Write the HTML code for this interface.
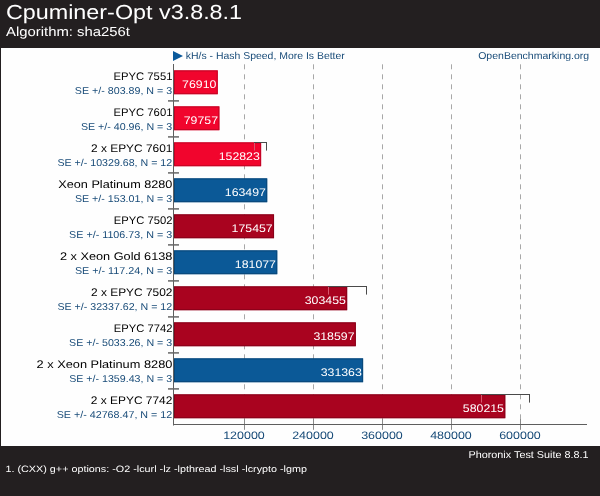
<!DOCTYPE html><html><head><meta charset="utf-8"><style>html,body{margin:0;padding:0;background:#fefefe;}svg{display:block}text{text-rendering:geometricPrecision;font-family:"Liberation Sans",sans-serif;}</style></head><body>
<svg style="will-change:transform" width="600" height="496" viewBox="0 0 600 496">
<rect x="0" y="0" width="600" height="496" fill="#fefefe"/>
<rect x="0" y="0" width="600" height="48" fill="#231f20"/>
<text x="5.9" y="19.4" font-size="20.3" fill="#ffffff" textLength="236.2" lengthAdjust="spacingAndGlyphs">Cpuminer-Opt v3.8.8.1</text>
<text x="6" y="36" font-size="13" fill="#ffffff" textLength="124" lengthAdjust="spacingAndGlyphs">Algorithm: sha256t</text>
<rect x="0" y="48" width="1" height="398" fill="#231f20"/>
<rect x="0" y="446" width="600" height="50" fill="#231f20"/>
<text x="468.5" y="458" font-size="10" fill="#ffffff" textLength="120" lengthAdjust="spacingAndGlyphs">Phoronix Test Suite 8.8.1</text>
<text x="5.5" y="471.5" font-size="9.2" fill="#ffffff" textLength="301.5" lengthAdjust="spacingAndGlyphs">1. (CXX) g++ options: -O2 -lcurl -lz -lpthread -lssl -lcrypto -lgmp</text>
<path d="M173 51 L183 56 L173 61 Z" fill="#0b5a9c"/>
<text x="185.8" y="59" font-size="10" fill="#184b78" textLength="159" lengthAdjust="spacingAndGlyphs">kH/s - Hash Speed, More Is Better</text>
<text x="478.2" y="59" font-size="10" fill="#184b78" textLength="111" lengthAdjust="spacingAndGlyphs">OpenBenchmarking.org</text>
<line x1="244.5" y1="64.3" x2="244.5" y2="424" stroke="#a8a8a8" stroke-width="1" stroke-dasharray="5,5"/>
<line x1="244.5" y1="419" x2="244.5" y2="429.8" stroke="#8a8a8a" stroke-width="1"/>
<line x1="313.5" y1="64.3" x2="313.5" y2="424" stroke="#a8a8a8" stroke-width="1" stroke-dasharray="5,5"/>
<line x1="313.5" y1="419" x2="313.5" y2="429.8" stroke="#8a8a8a" stroke-width="1"/>
<line x1="382.5" y1="64.3" x2="382.5" y2="424" stroke="#a8a8a8" stroke-width="1" stroke-dasharray="5,5"/>
<line x1="382.5" y1="419" x2="382.5" y2="429.8" stroke="#8a8a8a" stroke-width="1"/>
<line x1="451.5" y1="64.3" x2="451.5" y2="424" stroke="#a8a8a8" stroke-width="1" stroke-dasharray="5,5"/>
<line x1="451.5" y1="419" x2="451.5" y2="429.8" stroke="#8a8a8a" stroke-width="1"/>
<line x1="520.5" y1="64.3" x2="520.5" y2="424" stroke="#a8a8a8" stroke-width="1" stroke-dasharray="5,5"/>
<line x1="520.5" y1="419" x2="520.5" y2="429.8" stroke="#8a8a8a" stroke-width="1"/>
<line x1="173.5" y1="64" x2="173.5" y2="425.5" stroke="#5e5e5e" stroke-width="1"/>
<line x1="173" y1="424.5" x2="587" y2="424.5" stroke="#5e5e5e" stroke-width="1"/>
<text x="223.2" y="438.8" font-size="10.9" fill="#184b78" textLength="41.6" lengthAdjust="spacingAndGlyphs">120000</text>
<text x="292.2" y="438.8" font-size="10.9" fill="#184b78" textLength="41.6" lengthAdjust="spacingAndGlyphs">240000</text>
<text x="361.2" y="438.8" font-size="10.9" fill="#184b78" textLength="41.6" lengthAdjust="spacingAndGlyphs">360000</text>
<text x="430.2" y="438.8" font-size="10.9" fill="#184b78" textLength="41.6" lengthAdjust="spacingAndGlyphs">480000</text>
<text x="499.2" y="438.8" font-size="10.9" fill="#184b78" textLength="41.6" lengthAdjust="spacingAndGlyphs">600000</text>
<rect x="174" y="70.40" width="43.74" height="23.8" fill="#f1052d"/>
<rect x="174.5" y="70.90" width="42.74" height="22.8" fill="none" stroke="#c10424" stroke-width="1" opacity="1"/>
<text x="182.14" y="88.00" font-size="11" fill="#ffffff" textLength="34.3" lengthAdjust="spacingAndGlyphs">76910</text>
<text x="113.60" y="80.25" font-size="11" fill="#000000" textLength="58.8" lengthAdjust="spacingAndGlyphs">EPYC 7551</text>
<text x="74.80" y="93.70" font-size="10" fill="#184b78" textLength="97.4" lengthAdjust="spacingAndGlyphs">SE +/- 803.89, N = 3</text>
<line x1="168" y1="100.90" x2="179" y2="100.90" stroke="#666" stroke-width="1.5"/>
<rect x="174" y="106.40" width="45.37" height="23.8" fill="#f1052d"/>
<rect x="174.5" y="106.90" width="44.37" height="22.8" fill="none" stroke="#c10424" stroke-width="1" opacity="1"/>
<text x="183.77" y="124.00" font-size="11" fill="#ffffff" textLength="34.3" lengthAdjust="spacingAndGlyphs">79757</text>
<text x="113.60" y="116.25" font-size="11" fill="#000000" textLength="58.8" lengthAdjust="spacingAndGlyphs">EPYC 7601</text>
<text x="80.90" y="129.70" font-size="10" fill="#184b78" textLength="91.3" lengthAdjust="spacingAndGlyphs">SE +/- 40.96, N = 3</text>
<line x1="168" y1="136.90" x2="179" y2="136.90" stroke="#666" stroke-width="1.5"/>
<rect x="174" y="142.40" width="87.11" height="23.8" fill="#f1052d"/>
<rect x="174.5" y="142.90" width="86.11" height="22.8" fill="none" stroke="#c10424" stroke-width="1" opacity="1"/>
<text x="218.71" y="160.00" font-size="11" fill="#ffffff" textLength="41.1" lengthAdjust="spacingAndGlyphs">152823</text>
<text x="91.00" y="152.25" font-size="11" fill="#000000" textLength="81.4" lengthAdjust="spacingAndGlyphs">2 x EPYC 7601</text>
<text x="57.40" y="165.70" font-size="10" fill="#184b78" textLength="114.8" lengthAdjust="spacingAndGlyphs">SE +/- 10329.68, N = 12</text>
<line x1="168" y1="172.90" x2="179" y2="172.90" stroke="#666" stroke-width="1.5"/>
<line x1="254.5" y1="143.00" x2="254.5" y2="150.60" stroke="#d8586e" stroke-width="1"/>
<line x1="254.0" y1="142.50" x2="267.0" y2="142.50" stroke="#4a4a4a" stroke-width="1"/>
<line x1="266.5" y1="142.40" x2="266.5" y2="150.60" stroke="#4a4a4a" stroke-width="1"/>
<rect x="174" y="178.40" width="93.21" height="23.8" fill="#0b5997"/>
<rect x="174.5" y="178.90" width="92.21" height="22.8" fill="none" stroke="#094779" stroke-width="1" opacity="1"/>
<text x="224.81" y="196.00" font-size="11" fill="#ffffff" textLength="41.1" lengthAdjust="spacingAndGlyphs">163497</text>
<text x="58.30" y="188.25" font-size="11" fill="#000000" textLength="114.1" lengthAdjust="spacingAndGlyphs">Xeon Platinum 8280</text>
<text x="74.90" y="201.70" font-size="10" fill="#184b78" textLength="97.3" lengthAdjust="spacingAndGlyphs">SE +/- 153.01, N = 3</text>
<line x1="168" y1="208.90" x2="179" y2="208.90" stroke="#666" stroke-width="1.5"/>
<rect x="174" y="214.40" width="100.04" height="23.8" fill="#a9031f"/>
<rect x="174.5" y="214.90" width="99.04" height="22.8" fill="none" stroke="#870219" stroke-width="1" opacity="1"/>
<text x="231.64" y="232.00" font-size="11" fill="#ffffff" textLength="41.1" lengthAdjust="spacingAndGlyphs">175457</text>
<text x="113.80" y="224.25" font-size="11" fill="#000000" textLength="58.6" lengthAdjust="spacingAndGlyphs">EPYC 7502</text>
<text x="69.10" y="237.70" font-size="10" fill="#184b78" textLength="103.1" lengthAdjust="spacingAndGlyphs">SE +/- 1106.73, N = 3</text>
<line x1="168" y1="244.90" x2="179" y2="244.90" stroke="#666" stroke-width="1.5"/>
<rect x="174" y="250.40" width="103.25" height="23.8" fill="#0b5997"/>
<rect x="174.5" y="250.90" width="102.25" height="22.8" fill="none" stroke="#094779" stroke-width="1" opacity="1"/>
<text x="234.85" y="268.00" font-size="11" fill="#ffffff" textLength="41.1" lengthAdjust="spacingAndGlyphs">181077</text>
<text x="59.90" y="260.25" font-size="11" fill="#000000" textLength="112.5" lengthAdjust="spacingAndGlyphs">2 x Xeon Gold 6138</text>
<text x="74.90" y="273.70" font-size="10" fill="#184b78" textLength="97.3" lengthAdjust="spacingAndGlyphs">SE +/- 117.24, N = 3</text>
<line x1="168" y1="280.90" x2="179" y2="280.90" stroke="#666" stroke-width="1.5"/>
<rect x="174" y="286.40" width="173.16" height="23.8" fill="#a9031f"/>
<rect x="174.5" y="286.90" width="172.16" height="22.8" fill="none" stroke="#870219" stroke-width="1" opacity="1"/>
<text x="304.76" y="304.00" font-size="11" fill="#ffffff" textLength="41.1" lengthAdjust="spacingAndGlyphs">303455</text>
<text x="91.00" y="296.25" font-size="11" fill="#000000" textLength="81.4" lengthAdjust="spacingAndGlyphs">2 x EPYC 7502</text>
<text x="57.40" y="309.70" font-size="10" fill="#184b78" textLength="114.8" lengthAdjust="spacingAndGlyphs">SE +/- 32337.62, N = 12</text>
<line x1="168" y1="316.90" x2="179" y2="316.90" stroke="#666" stroke-width="1.5"/>
<line x1="328.5" y1="287.00" x2="328.5" y2="294.60" stroke="#d8586e" stroke-width="1"/>
<line x1="328.0" y1="286.50" x2="367.0" y2="286.50" stroke="#4a4a4a" stroke-width="1"/>
<line x1="366.5" y1="286.40" x2="366.5" y2="294.60" stroke="#4a4a4a" stroke-width="1"/>
<rect x="174" y="322.40" width="181.81" height="23.8" fill="#a9031f"/>
<rect x="174.5" y="322.90" width="180.81" height="22.8" fill="none" stroke="#870219" stroke-width="1" opacity="1"/>
<text x="313.41" y="340.00" font-size="11" fill="#ffffff" textLength="41.1" lengthAdjust="spacingAndGlyphs">318597</text>
<text x="113.80" y="332.25" font-size="11" fill="#000000" textLength="58.6" lengthAdjust="spacingAndGlyphs">EPYC 7742</text>
<text x="69.10" y="345.70" font-size="10" fill="#184b78" textLength="103.1" lengthAdjust="spacingAndGlyphs">SE +/- 5033.26, N = 3</text>
<line x1="168" y1="352.90" x2="179" y2="352.90" stroke="#666" stroke-width="1.5"/>
<rect x="174" y="358.40" width="189.11" height="23.8" fill="#0b5997"/>
<rect x="174.5" y="358.90" width="188.11" height="22.8" fill="none" stroke="#094779" stroke-width="1" opacity="1"/>
<text x="320.71" y="376.00" font-size="11" fill="#ffffff" textLength="41.1" lengthAdjust="spacingAndGlyphs">331363</text>
<text x="36.60" y="368.25" font-size="11" fill="#000000" textLength="135.8" lengthAdjust="spacingAndGlyphs">2 x Xeon Platinum 8280</text>
<text x="69.20" y="381.70" font-size="10" fill="#184b78" textLength="103.0" lengthAdjust="spacingAndGlyphs">SE +/- 1359.43, N = 3</text>
<line x1="168" y1="388.90" x2="179" y2="388.90" stroke="#666" stroke-width="1.5"/>
<rect x="174" y="394.40" width="331.28" height="23.8" fill="#a9031f"/>
<rect x="174.5" y="394.90" width="330.28" height="22.8" fill="none" stroke="#870219" stroke-width="1" opacity="1"/>
<text x="462.88" y="412.00" font-size="11" fill="#ffffff" textLength="41.1" lengthAdjust="spacingAndGlyphs">580215</text>
<text x="90.80" y="404.25" font-size="11" fill="#000000" textLength="81.6" lengthAdjust="spacingAndGlyphs">2 x EPYC 7742</text>
<text x="56.70" y="417.70" font-size="10" fill="#184b78" textLength="115.5" lengthAdjust="spacingAndGlyphs">SE +/- 42768.47, N = 12</text>
<line x1="481.5" y1="395.00" x2="481.5" y2="402.60" stroke="#d8586e" stroke-width="1"/>
<line x1="481.0" y1="394.50" x2="530.0" y2="394.50" stroke="#4a4a4a" stroke-width="1"/>
<line x1="529.5" y1="394.40" x2="529.5" y2="402.60" stroke="#4a4a4a" stroke-width="1"/>
</svg></body></html>
